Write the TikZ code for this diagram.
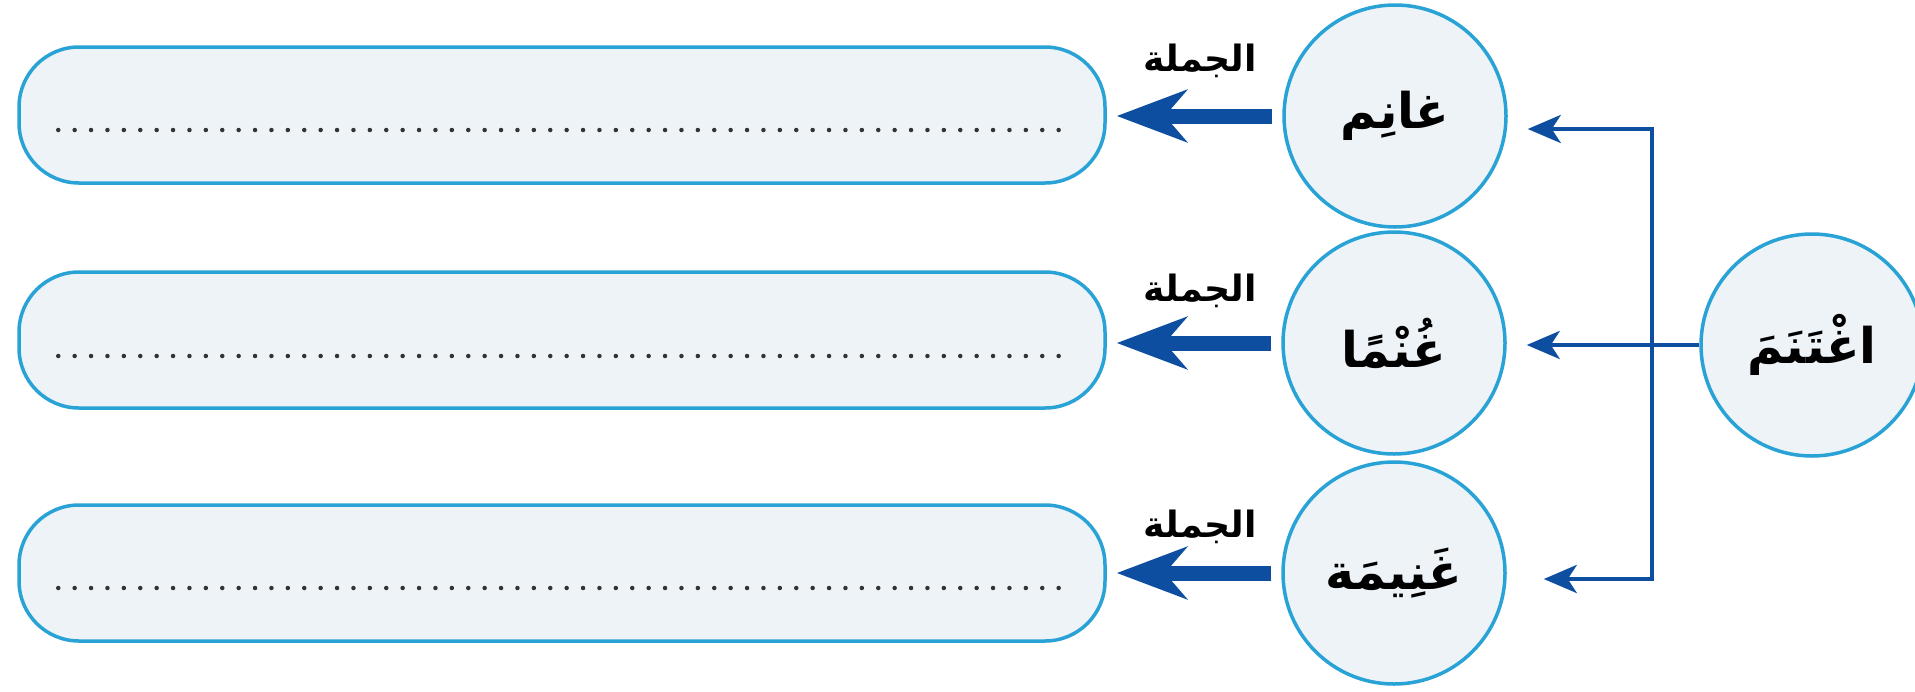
\documentclass[tikz,border=0pt]{standalone}
\usepackage{fontspec}
\newfontfamily\arabicfont[Script=Arabic]{DejaVu Sans}
\TeXXeTstate=1
\usetikzlibrary{arrows.meta}
\definecolor{ringblue}{RGB}{41,162,214}
\definecolor{paleblue}{RGB}{238,243,248}
\definecolor{arrowblue}{RGB}{14,78,160}

\begin{document}
\begin{tikzpicture}[x=0.1mm, y=0.1mm,
  word/.style={circle, draw=ringblue, line width=0.35mm, fill=paleblue, minimum size=22.2mm, inner sep=0pt, font=\arabicfont\bfseries\fontsize{14}{17}\selectfont},
  answer/.style={draw=ringblue, line width=0.35mm, fill=paleblue, rounded corners=6mm, minimum width=108.6mm, minimum height=13.6mm},
  tag/.style={font=\arabicfont\bfseries\fontsize{10.3}{12}\selectfont},
  bigarrow/.style={arrowblue, line width=1.5mm, -{Stealth[length=7mm, width=5.2mm, inset=2.2mm]}},
  linkarrow/.style={arrowblue, line width=0.45mm, -{Stealth[length=3.3mm, width=2.8mm, inset=0.9mm]}},
  dotline/.style={black!80, line width=0.45mm, line cap=round, dash pattern=on 0pt off 1.64mm}]

\useasboundingbox (0,0) rectangle (1915,691);

\node [answer] (s1) at (562,576) {};
\node [answer] (s2) at (562,351) {};
\node [answer] (s3) at (562,118) {};
\draw [dotline] ([xshift=4.1mm, yshift=-1.5mm]s1.west) -- ([xshift=-3.8mm, yshift=-1.5mm]s1.east);
\draw [dotline] ([xshift=4.1mm, yshift=-1.6mm]s2.west) -- ([xshift=-3.8mm, yshift=-1.6mm]s2.east);
\draw [dotline] ([xshift=4.1mm, yshift=-1.5mm]s3.west) -- ([xshift=-3.8mm, yshift=-1.5mm]s3.east);

\node [word] (gh1) at (1395,575) {\beginR غانِم\endR};
\node [word] (gh2) at (1394,348) {\beginR غُنْمًا\endR};
\node [word] (gh3) at (1394,118) {\beginR غَنِيمَة\endR};
\node [word] (root) at (1812,346) {\beginR اغْتَنَمَ\endR};

\node [tag] (t1) at (1200,630) {\beginR الجملة\endR};
\node [tag] (t2) at (1200,400) {\beginR الجملة\endR};
\node [tag] (t3) at (1200,164) {\beginR الجملة\endR};

\draw [bigarrow, shorten <=1mm, shorten >=1mm] (gh1.west) -- (gh1.west -| s1.east);
\draw [bigarrow, shorten <=1mm, shorten >=1mm] (gh2.west) -- (gh2.west -| s2.east);
\draw [bigarrow, shorten <=1mm, shorten >=1mm] (gh3.west) -- (gh3.west -| s3.east);

\coordinate (fork) at (1652,346);
\draw [linkarrow, shorten >=2mm] (root.west) -- (root.west -| gh2.east);
\draw [linkarrow] (fork) |- ([xshift=2mm, yshift=-1.3mm]gh1.east);
\draw [linkarrow] (fork) |- ([xshift=3.7mm, yshift=-0.6mm]gh3.east);

\end{tikzpicture}
\end{document}
